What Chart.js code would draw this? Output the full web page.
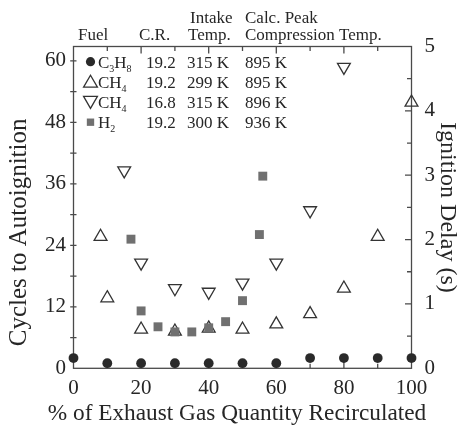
<!DOCTYPE html>
<html><head><meta charset="utf-8">
<script src="https://cdn.jsdelivr.net/npm/chart.js@4/dist/chart.umd.min.js"></script>
<style>html,body{margin:0;padding:0;background:#fff}#wrap{width:465px;height:433px}</style>
</head><body><div id="wrap"><canvas id="c" width="465" height="433"></canvas></div>
<script>
// ---- data ----
const xTicks = [0, 20, 40, 60, 80, 100];
const yTicks = [0, 12, 24, 36, 48, 60];
const y2Ticks = [0, 1, 2, 3, 4, 5];

const c3h8X = [0, 10, 20, 30, 40, 50, 60, 70, 80, 90, 100];
const c3h8Y = [2, 1, 1, 1, 1, 1, 1, 2, 2, 2, 2];

const ch4aX = [8, 10, 20, 30, 40, 50, 60, 70, 80, 90, 100];
const ch4aY = [25.7, 13.7, 7.6, 7.2, 7.8, 7.6, 8.6, 10.6, 15.6, 25.7, 51.9];

const ch4bX = [15, 20, 30, 40, 50, 60, 70, 80];
const ch4bY = [38.6, 20.6, 15.6, 14.9, 16.7, 20.6, 30.8, 58.8];

const h2X = [17, 20, 25, 30, 35, 40, 45, 50, 55, 56];
const h2Y = [25.2, 11.2, 8.1, 7.1, 7.1, 7.9, 9.1, 13.2, 26.1, 37.5];

const legendFuel = ["C_3H_8", "CH_4", "CH_4", "H_2"];
const legendCR = ["19.2", "19.2", "16.8", "19.2"];
const legendIntake = ["315 K", "299 K", "315 K", "300 K"];
const legendPeak = ["895 K", "895 K", "896 K", "936 K"];

const xTitle = '% of Exhaust Gas Quantity Recirculated';

const pts = (xs, ys) => xs.map((x, i) => ({x: x, y: ys[i]}));

const SERIF = "'Liberation Serif', 'Times New Roman', serif";
const TXT = '#262626';
const AXIS = '#4a4a4a';
const DARK = '#2a2a2a';
const GRAY = '#707070';
const TRI = '#333';

function marker(ctx, style, x, y, r) {
  ctx.save();
  ctx.beginPath();
  if (style === 'circle') {
    ctx.arc(x, y, r, 0, Math.PI * 2);
    ctx.fillStyle = DARK; ctx.fill();
  } else if (style === 'rect') {
    const s = r * Math.SQRT1_2;
    ctx.rect(x - s, y - s, 2 * s, 2 * s);
    ctx.fillStyle = GRAY; ctx.fill();
  } else {
    let rad = style === 'down' ? Math.PI : 0;
    const T = Math.PI * 2 / 3;
    ctx.moveTo(x + Math.sin(rad) * r, y - Math.cos(rad) * r); rad += T;
    ctx.lineTo(x + Math.sin(rad) * r, y - Math.cos(rad) * r); rad += T;
    ctx.lineTo(x + Math.sin(rad) * r, y - Math.cos(rad) * r);
    ctx.closePath();
    ctx.strokeStyle = TRI; ctx.lineWidth = 1.3; ctx.stroke();
  }
  ctx.restore();
}

function drawFormula(ctx, f, x, baseY) {
  let cx = x;
  for (let i = 0; i < f.length; i++) {
    if (f[i] === '_') {
      i++;
      ctx.font = '10px ' + SERIF;
      ctx.fillText(f[i], cx, baseY + 4);
      cx += ctx.measureText(f[i]).width;
    } else {
      ctx.font = '17px ' + SERIF;
      ctx.fillText(f[i], cx, baseY);
      cx += ctx.measureText(f[i]).width;
    }
  }
}

const framePlugin = {
  id: 'frame',
  beforeDatasetsDraw(chart) {
    const ctx = chart.ctx;
    const a = chart.chartArea;
    const xs = chart.scales.x, ys = chart.scales.y, y2 = chart.scales.y2;
    ctx.save();
    ctx.strokeStyle = AXIS;
    ctx.lineWidth = 1.3;
    ctx.strokeRect(a.left, a.top, a.right - a.left, a.bottom - a.top);
    ctx.beginPath();
    for (let v = 10; v < 100; v += 10) {
      const px = xs.getPixelForValue(v);
      const len = (v % 20 === 0) ? 7 : 4.5;
      ctx.moveTo(px, a.top); ctx.lineTo(px, a.top + len);
      ctx.moveTo(px, a.bottom); ctx.lineTo(px, a.bottom - len);
    }
    for (let v = 6; v <= 60; v += 6) {
      const py = ys.getPixelForValue(v);
      ctx.moveTo(a.left - 3.3, py); ctx.lineTo(a.left + 3, py);
    }
    for (let v = 0.5; v < 5; v += 0.5) {
      const py = y2.getPixelForValue(v);
      const len = (Math.abs(v - Math.round(v)) < 1e-6) ? 6.5 : 4.5;
      ctx.moveTo(a.right, py); ctx.lineTo(a.right - len, py);
    }
    ctx.stroke();
    ctx.restore();
  },
  afterDraw(chart) {
    const ctx = chart.ctx;
    ctx.save();
    // x-axis title (drawn without width compression)
    ctx.fillStyle = TXT;
    ctx.font = '23.3px ' + SERIF;
    ctx.textAlign = 'center';
    ctx.textBaseline = 'middle';
    ctx.fillText(xTitle, 237, 414);
    ctx.textAlign = 'left';
    ctx.textBaseline = 'alphabetic';
    ctx.font = '17px ' + SERIF;
    ctx.fillText('Fuel', 78, 40);
    ctx.fillText('C.R.', 139, 40);
    ctx.fillText('Intake', 190, 22.5);
    ctx.fillText('Temp.', 188, 40);
    ctx.fillText('Calc. Peak', 245, 22.5);
    ctx.fillText('Compression Temp.', 245, 40);
    const rowY = [61.7, 81.7, 101.9, 122.2];
    const styles = ['circle', 'up', 'down', 'rect'];
    const radii = [4.6, 8, 8, 5.2];
    for (let i = 0; i < 4; i++) {
      const cy = rowY[i];
      const my = styles[i] === 'up' ? cy + 1.5 : (styles[i] === 'down' ? cy - 1.5 : cy);
      marker(ctx, styles[i], 90.5, my, radii[i]);
      ctx.fillStyle = TXT;
      const base = cy + 5.8;
      drawFormula(ctx, legendFuel[i], 98, base);
      ctx.font = '17px ' + SERIF;
      ctx.fillText(legendCR[i], 146, base);
      ctx.fillText(legendIntake[i], 187, base);
      ctx.fillText(legendPeak[i], 245, base);
    }
    ctx.restore();
  }
};

const tickFont = {family: SERIF, size: 21};

new Chart(document.getElementById('c'), {
  type: 'scatter',
  data: {
    datasets: [
      {label: 'H2', data: pts(h2X, h2Y), yAxisID: 'y', order: 0, clip: false,
       pointStyle: 'rect', pointRadius: 6.3, backgroundColor: GRAY, borderColor: GRAY, borderWidth: 0},
      {label: 'C3H8', data: pts(c3h8X, c3h8Y), yAxisID: 'y', order: 1, clip: false,
       pointStyle: 'circle', pointRadius: 4.9, backgroundColor: DARK, borderColor: DARK, borderWidth: 0},
      {label: 'CH4 16.8', data: pts(ch4bX, ch4bY), yAxisID: 'y', order: 2, clip: false,
       pointStyle: 'triangle', rotation: 180, pointRadius: 7.4, backgroundColor: 'rgba(255,255,255,0)', borderColor: TRI, borderWidth: 1.3},
      {label: 'CH4 19.2', data: pts(ch4aX, ch4aY), yAxisID: 'y', order: 3, clip: false,
       pointStyle: 'triangle', pointRadius: 7.4, backgroundColor: 'rgba(255,255,255,0)', borderColor: TRI, borderWidth: 1.3}
    ]
  },
  options: {
    responsive: false,
    animation: false,
    devicePixelRatio: 1,
    layout: {padding: {top: 46.5, left: 0, right: 0, bottom: 0}},
    plugins: {legend: {display: false}, tooltip: {enabled: false}},
    scales: {
      x: {
        type: 'linear', position: 'bottom', min: 0, max: 100,
        afterBuildTicks: s => { s.ticks = xTicks.map(v => ({value: v})); },
        afterFit: s => { s.height = 64.7; },
        grid: {display: false, drawTicks: false},
        border: {display: false},
        ticks: {font: tickFont, color: TXT, padding: 8, maxRotation: 0, autoSkip: false},
        title: {display: false}
      },
      y: {
        type: 'linear', position: 'left', min: 0, max: 62.8,
        afterBuildTicks: s => { s.ticks = yTicks.map(v => ({value: v})); },
        afterFit: s => { s.width = 73.5; },
        grid: {display: false, drawTicks: false},
        border: {display: false},
        ticks: {font: tickFont, color: TXT, padding: 7.5, autoSkip: false},
        title: {display: true, text: 'Cycles to Autoignition        ', font: {family: SERIF, size: 25}, color: TXT, padding: {top: 4, bottom: 0}}
      },
      y2: {
        type: 'linear', position: 'right', min: 0, max: 5,
        afterBuildTicks: s => { s.ticks = y2Ticks.map(v => ({value: v})); },
        afterFit: s => { s.width = 53.5; },
        grid: {display: false, drawTicks: false},
        border: {display: false},
        ticks: {font: tickFont, color: TXT, padding: 13, autoSkip: false},
        title: {display: true, text: 'Ignition Delay (s)', font: {family: SERIF, size: 24}, color: TXT, padding: {top: 3.6, bottom: 0}}
      }
    }
  },
  plugins: [framePlugin]
});
</script>
</body></html>
